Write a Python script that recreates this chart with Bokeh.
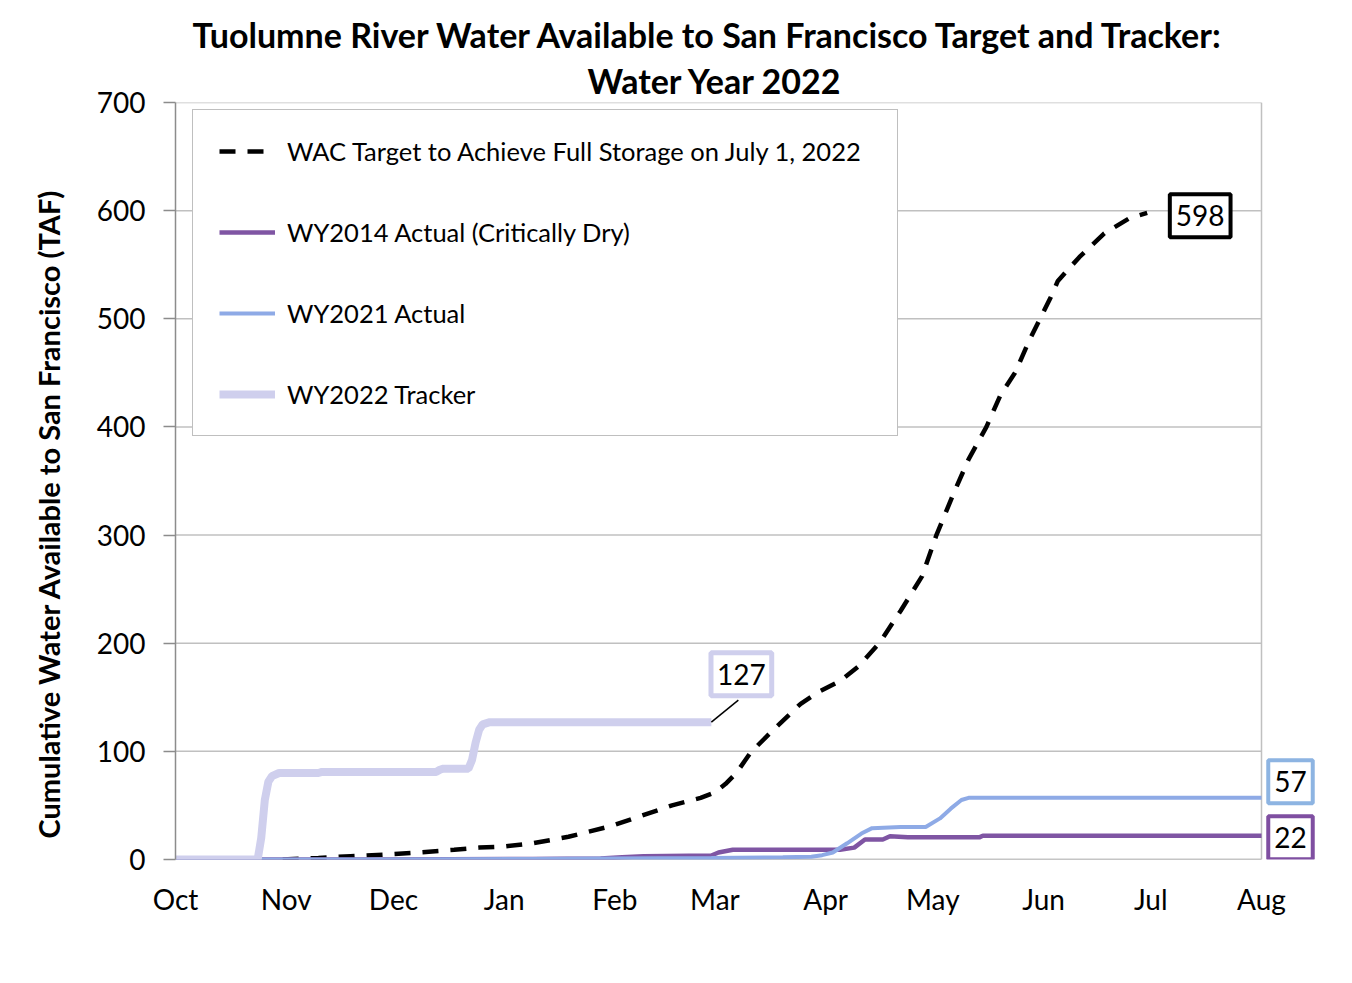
from bokeh.plotting import figure
from bokeh.models import Legend, LegendItem, Label, Title, FixedTicker, Span
from bokeh.embed import file_html
from bokeh.resources import INLINE

# ---------------- data ----------------
month_labels = ["Oct", "Nov", "Dec", "Jan", "Feb", "Mar", "Apr", "May", "Jun", "Jul", "Aug"]
month_start_day = [0, 31, 61, 92, 123, 151, 182, 212, 243, 273, 304]  # day of water year
y_ticks = [0, 100, 200, 300, 400, 500, 600, 700]

# WAC target to achieve full storage on July 1, 2022 (TAF)
target_day = [30, 40, 49, 58, 68, 78, 85, 92, 100, 110, 122, 130, 139, 147, 151, 154, 157, 161,
              168, 175, 180, 186, 191, 197, 203, 209, 213, 218, 222, 227, 231, 235, 239, 242,
              245, 247, 253, 260, 267, 272]
target_val = [0, 1.5, 3, 4.5, 6.5, 9, 11, 12, 15, 21, 31, 40, 50, 57, 62, 70, 80, 99,
              122, 144, 155, 165, 178, 200, 230, 262, 300, 340, 370, 400, 430, 450, 480, 500,
              520, 535, 557, 579, 593, 598]

# WY2014 actual (critically dry)
wy2014_day = [0, 60, 100, 119, 125, 131, 150, 152, 156, 186, 190, 193, 198, 200, 205, 225, 226, 304]
wy2014_val = [0, 0, 0.5, 1, 2, 3, 3.7, 6.5, 9, 9, 11, 18.5, 18.5, 21.5, 20.5, 20.5, 22, 22]

# WY2021 actual
wy2021_day = [0, 30, 60, 100, 120, 150, 170, 178, 181, 184, 188, 192, 195, 203, 210, 214, 217, 220, 222, 304]
wy2021_val = [0, 0, 0, 0.5, 1, 1.5, 2, 2.5, 4, 6.5, 15, 24, 29, 30, 30, 38, 47, 55, 57, 57]

# WY2022 tracker
wy2022_day = [0, 23, 24, 25, 26, 27, 29, 40, 41, 73, 74, 75, 82, 83, 84, 85, 86, 88, 150]
wy2022_val = [0, 0, 20, 55, 72, 77, 80, 80, 81, 81, 83, 84, 84, 92, 108, 120, 125, 127, 127]

series_names = ["WAC Target to Achieve Full Storage on July 1, 2022",
                "WY2014 Actual (Critically Dry)",
                "WY2021 Actual",
                "WY2022 Tracker"]

title_lines = ["Tuolumne River Water Available to San Francisco Target and Tracker:",
               "Water Year 2022"]
y_title = "Cumulative Water Available to San Francisco (TAF)"

# ---------------- style ----------------
FONT = "Lato"
C_TARGET = "#000000"
C_2014 = "#7f55a3"
C_2021 = "#8eaae6"
C_2022 = "#cfcfed"
C_BOX57 = "#8db4e2"
C_BOX22 = "#7f4fa1"
GRID = "#c0c0c0"
AXIS = "#8c8c8c"

X0, X1 = 0, 304
Y0, Y1 = 0, 700
PLOT_W, FH = 1086, 757       # plotting area (Oct 1 .. Aug 1)
EXTRA_R = 72                  # room at the right for the end-of-series value boxes
px_per_day = PLOT_W / (X1 - X0)
px_per_taf = FH / (Y1 - Y0)
X1_frame = X1 + EXTRA_R / px_per_day

p = figure(frame_width=PLOT_W + EXTRA_R, frame_height=FH, x_range=(X0, X1_frame), y_range=(Y0, Y1),
           output_backend="svg", toolbar_location=None,
           min_border_left=175, min_border_right=8, min_border_top=102, min_border_bottom=100)

# titles (p.title sits farthest from the frame)
p.title.text = title_lines[0]
p.title.align = "left"
p.title.offset = 17
p.title.text_font = FONT
p.title.text_font_size = "34px"
p.title.text_font_style = "bold"
p.title.text_color = "#000000"
p.title.standoff = 2
t2 = Title(text=title_lines[1], align="left", offset=412, text_font=FONT, text_font_size="34px",
           text_font_style="bold", text_color="#000000", standoff=4)
p.add_layout(t2, "above")

# y-axis title as a vertical Title in the left panel
yt = Title(text=y_title, align="left", text_font=FONT, text_font_size="29px",
           text_font_style="bold", text_color="#000000", standoff=55, offset=21)
p.add_layout(yt, "left")

# axes
p.xaxis.ticker = FixedTicker(ticks=month_start_day)
p.xaxis.major_label_overrides = {d: m for d, m in zip(month_start_day, month_labels)}
p.xaxis.major_tick_out = 0
p.xaxis.major_tick_in = 0
p.xaxis.minor_tick_line_color = None
p.xaxis.axis_line_color = None
p.xaxis.major_label_standoff = 22
p.xaxis.major_label_text_font = FONT
p.xaxis.major_label_text_font_size = "28px"
p.xaxis.major_label_text_color = "#000000"

p.yaxis.ticker = FixedTicker(ticks=y_ticks)
p.yaxis.major_tick_out = 12
p.yaxis.major_tick_in = 0
p.yaxis.minor_tick_line_color = None
p.yaxis.axis_line_color = AXIS
p.yaxis.axis_line_width = 1.5
p.yaxis.major_tick_line_color = AXIS
p.yaxis.major_tick_line_width = 1.5
p.yaxis.major_label_standoff = 18
p.yaxis.major_label_text_font = FONT
p.yaxis.major_label_text_font_size = "28px"
p.yaxis.major_label_text_color = "#000000"

p.xgrid.grid_line_color = None
p.ygrid.grid_line_color = None
p.outline_line_color = None

# horizontal gridlines limited to the Oct..Aug plotting area, plus the right border
p.segment(x0=[X0] * len(y_ticks), x1=[X1] * len(y_ticks), y0=y_ticks, y1=y_ticks,
          line_color=[AXIS if t == Y0 else GRID for t in y_ticks], line_width=1.5)
p.segment(x0=[X1], x1=[X1], y0=[Y0], y1=[Y1], line_color=GRID, line_width=1.5)

# series
r_target = p.line(target_day, target_val, line_color=C_TARGET, line_width=4.5, line_dash="16 12")
r_2014 = p.line(wy2014_day, wy2014_val, line_color=C_2014, line_width=4.5)
r_2021 = p.line(wy2021_day, wy2021_val, line_color=C_2021, line_width=4)
r_2022 = p.line(wy2022_day, wy2022_val, line_color=C_2022, line_width=8)

legend = Legend(items=[LegendItem(label=series_names[0], renderers=[r_target]),
                       LegendItem(label=series_names[1], renderers=[r_2014]),
                       LegendItem(label=series_names[2], renderers=[r_2021]),
                       LegendItem(label=series_names[3], renderers=[r_2022])],
                location=(17, 423))
legend.label_text_font = FONT
legend.label_text_font_size = "25.5px"
legend.label_text_color = "#000000"
legend.glyph_width = 56
legend.glyph_height = 30
legend.label_height = 30
legend.label_width = 584
legend.label_standoff = 12
legend.spacing = 51
legend.padding = 26
legend.margin = 0
legend.border_line_color = "#808080"
legend.border_line_width = 1.5
legend.background_fill_color = "white"
legend.background_fill_alpha = 1
p.add_layout(legend)

# data labels
def box_label(x, y, dx, dy, color, bw):
    return Label(x=x, y=y, x_offset=dx, y_offset=dy, text=f"{y:.0f}",
                 text_align="center", text_baseline="middle", text_font=FONT,
                 text_font_size="28px", text_color="#000000",
                 border_line_color=color, border_line_width=bw,
                 background_fill_color="white", background_fill_alpha=1,
                 padding=dict(left=6, right=6, top=11, bottom=11))

# leader line for tracker label
lx, ly = wy2022_day[-1], wy2022_val[-1]
p.segment(x0=[lx], y0=[ly], x1=[lx + 27 / px_per_day], y1=[ly + 22 / px_per_taf],
          line_color="#000000", line_width=1.5)

p.add_layout(box_label(lx, ly, 30, 48, C_2022, 5))
p.add_layout(box_label(target_day[-1], target_val[-1], 53, -3, "#000000", 4))
p.add_layout(box_label(wy2021_day[-1], wy2021_val[-1], 29, 16, C_BOX57, 4))
p.add_layout(box_label(wy2014_day[-1], wy2014_val[-1], 29, -2, C_BOX22, 4))

open("out.html", "w").write(file_html(p, INLINE))
